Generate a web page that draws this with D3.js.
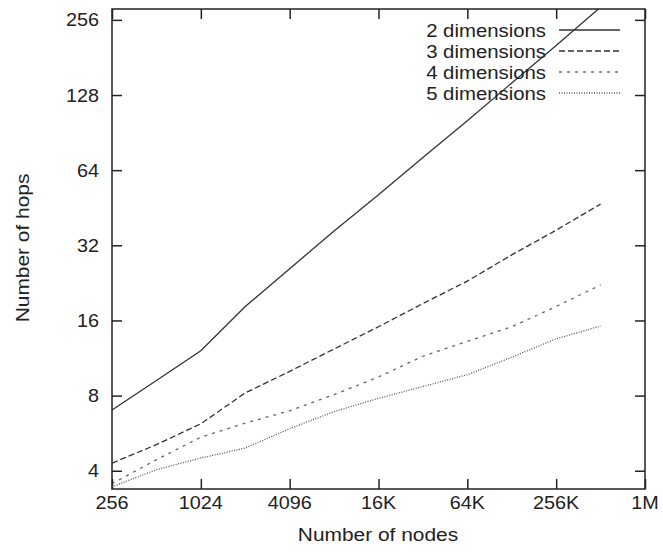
<!DOCTYPE html>
<meta charset="utf-8">
<style>
body { margin: 0; background: #fff; }
text { font-family: "Liberation Sans", Arial, sans-serif; fill: #222; }
.frame { fill: none; stroke: #222; stroke-width: 1.5px; }
.ticks line { stroke: #222; stroke-width: 1.5px; }
.ticks path { display: none; }
.line { fill: none; stroke-width: 1.3px; }
</style>
<body>
<script src="https://d3js.org/d3.v7.min.js"></script>
<script>

// number of nodes (x), one point per power of two
var nodes = [256, 512, 1024, 2048, 4096, 8192, 16384, 32768, 65536, 131072, 262144, 524288];

// hops per dimension count
var dim2 = [7.0, 9.2, 12.1, 18.2, 25.8, 36.5, 51, 72, 101, 143, 202, 288];
var dim3 = [4.29, 5.09, 6.17, 8.2, 10.0, 12.3, 15.1, 18.7, 23.0, 29.3, 36.8, 46.8];
var dim4 = [3.55, 4.43, 5.45, 6.21, 6.95, 8.07, 9.5, 11.5, 13.2, 15.1, 18.2, 22.2];
var dim5 = [3.45, 4.04, 4.5, 4.93, 5.9, 6.9, 7.8, 8.7, 9.7, 11.4, 13.5, 15.2];

var seriesNames = ["2 dimensions", "3 dimensions", "4 dimensions", "5 dimensions"];

var xTicks = [256, 1024, 4096, 16384, 65536, 262144, 1048576];
var xTickLabels = ["256", "1024", "4096", "16K", "64K", "256K", "1M"];
var yTicks = [4, 8, 16, 32, 64, 128, 256];
var yTickLabels = ["4", "8", "16", "32", "64", "128", "256"];

var series = [dim2, dim3, dim4, dim5];
var styles = [
  {stroke: "#333", dash: null},
  {stroke: "#333", dash: "6,3"},
  {stroke: "#666", dash: "3,5"},
  {stroke: "#555", dash: "1,1.5"}
];

var W = 663, H = 554;
var margin = {top: 9, right: 18, bottom: 65, left: 112};
var width = W - margin.left - margin.right,
    height = H - margin.top - margin.bottom;

var svg = d3.select("body").append("svg")
    .attr("width", W)
    .attr("height", H);

var g = svg.append("g")
    .attr("transform", "translate(" + margin.left + "," + margin.top + ")");

var x = d3.scaleLog().base(2)
    .domain([256, 1048576])
    .range([0, width]);

var y = d3.scaleLog().base(2)
    .domain([3.38, 283])
    .range([height, 0]);

// text in the original is a bit wider than tall
function stretched(sel, px, py) {
  return sel.attr("transform", "translate(" + px + "," + py + ") scale(1.1,1)");
}

svg.append("defs").append("clipPath").attr("id", "clip")
  .append("rect").attr("width", width).attr("height", height);

// mirrored inward ticks on all four sides
g.append("g").attr("class", "ticks")
    .attr("transform", "translate(0," + height + ")")
    .call(d3.axisBottom(x).tickValues(xTicks).tickSizeInner(-10).tickSizeOuter(0).tickFormat(""));
g.append("g").attr("class", "ticks")
    .call(d3.axisTop(x).tickValues(xTicks).tickSizeInner(-10).tickSizeOuter(0).tickFormat(""));
g.append("g").attr("class", "ticks")
    .call(d3.axisLeft(y).tickValues(yTicks).tickSizeInner(-10).tickSizeOuter(0).tickFormat(""));
g.append("g").attr("class", "ticks")
    .attr("transform", "translate(" + width + ",0)")
    .call(d3.axisRight(y).tickValues(yTicks).tickSizeInner(-10).tickSizeOuter(0).tickFormat(""));

// tick labels
g.selectAll(".xlab")
    .data(xTicks)
  .enter().append("text")
    .attr("class", "xlab")
    .attr("text-anchor", "middle")
    .style("font-size", "18px")
    .each(function(d) { stretched(d3.select(this), x(d), height + 20); })
    .text(function(d, i) { return xTickLabels[i]; });

g.selectAll(".ylab")
    .data(yTicks)
  .enter().append("text")
    .attr("class", "ylab")
    .attr("text-anchor", "end")
    .style("font-size", "18px")
    .each(function(d) { stretched(d3.select(this), -13, y(d) + 6.5); })
    .text(function(d, i) { return yTickLabels[i]; });

// axis titles
stretched(svg.append("text"), 378, 541)
    .attr("text-anchor", "middle")
    .style("font-size", "19px")
    .text("Number of nodes");

svg.append("text")
    .attr("text-anchor", "middle")
    .attr("transform", "translate(29,248) rotate(-90) scale(1.1,1)")
    .style("font-size", "19px")
    .text("Number of hops");

// data lines
var line = d3.line()
    .x(function(d, i) { return x(nodes[i]); })
    .y(function(d) { return y(d); });

g.append("g").attr("clip-path", "url(#clip)")
  .selectAll(".line")
    .data(series)
  .enter().append("path")
    .attr("class", "line")
    .attr("d", line)
    .style("stroke", function(d, i) { return styles[i].stroke; })
    .style("stroke-dasharray", function(d, i) { return styles[i].dash; });

// legend
var legend = g.selectAll(".legend")
    .data(seriesNames)
  .enter().append("g")
    .attr("class", "legend")
    .attr("transform", function(d, i) { return "translate(0," + (21 + i * 21) + ")"; });

legend.append("text")
    .attr("text-anchor", "end")
    .style("font-size", "18.5px")
    .each(function() { stretched(d3.select(this), 434, 6.5); })
    .text(function(d) { return d; });

legend.append("line")
    .attr("x1", 447).attr("x2", 508)
    .attr("y1", 0).attr("y2", 0)
    .attr("class", "line")
    .style("stroke", function(d, i) { return styles[i].stroke; })
    .style("stroke-dasharray", function(d, i) { return styles[i].dash; });

g.append("rect")
    .attr("class", "frame")
    .attr("width", width)
    .attr("height", height);

</script>
</body>
